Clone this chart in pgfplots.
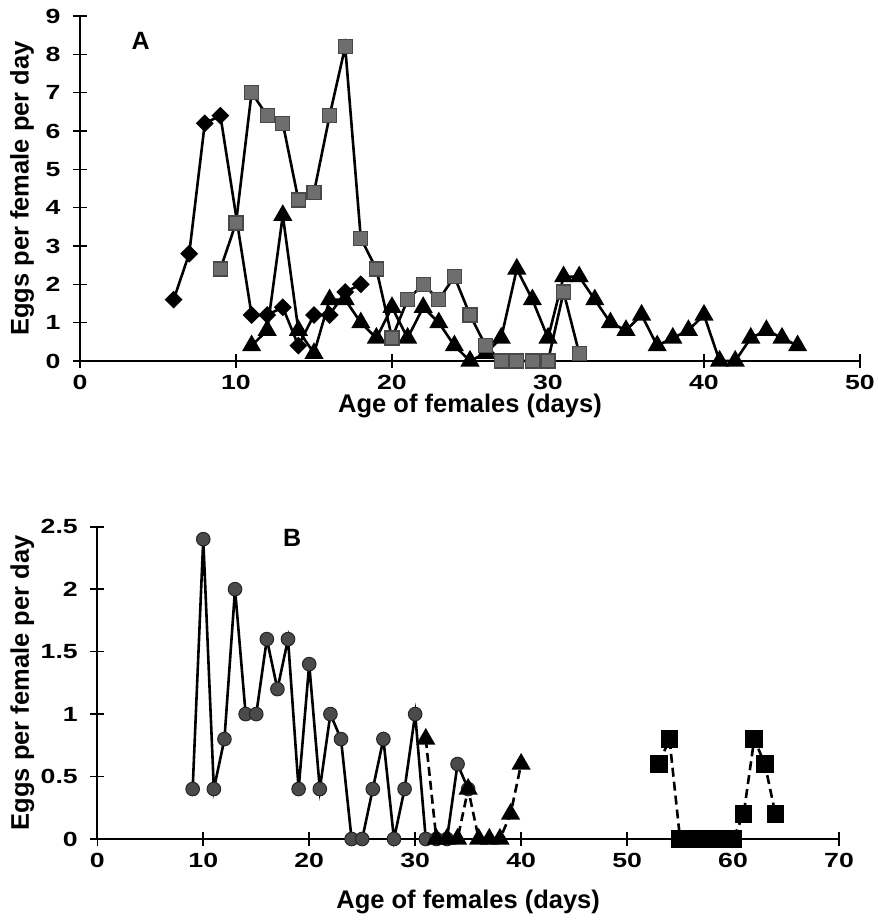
\documentclass[border=0pt]{standalone}
\usepackage{fontspec}
\setmainfont{Liberation Sans}
\usepackage{pgfplots}
\pgfplotsset{compat=1.18}

\definecolor{sqgray}{HTML}{6E6E6E}
\definecolor{sqedge}{HTML}{484848}
\definecolor{circgray}{HTML}{4A4A4A}

% tick numbers: bold, slightly widened
\newcommand{\ticktext}[1]{\scalebox{1.3}[1]{\fontsize{20.5}{24}\selectfont\bfseries #1}}

\pgfplotsset{
  eggaxis/.style={
    scale only axis, anchor=south west,
    axis x line=bottom, axis y line=left,
    axis line style={-, line width=1.8pt},
    every tick/.style={black, line width=1.6pt},
    tick align=center, major tick length=14pt,
    /pgf/number format/assume math mode=true,
    xticklabel={\ticktext{\pgfmathprintnumber{\tick}}},
    yticklabel={\ticktext{\pgfmathprintnumber{\tick}}},
    xticklabel style={yshift=-4pt},
    yticklabel style={xshift=-9pt},
    label style={font=\fontsize{25.5}{30}\selectfont\bfseries},
    xlabel={Age of females (days)},
    ylabel={Eggs per female per day},
    clip=false,
  },
  ser/.style={black, line width=2.6pt, mark options={solid}},
}

\begin{document}
\begin{tikzpicture}
\path[use as bounding box] (0pt,0pt) rectangle (878pt,922pt);

% Panel A
\begin{axis}[eggaxis, at={(80pt,561pt)}, width=780pt, height=345pt,
  xmin=0, xmax=50, ymin=0, ymax=9,
  xtick={0,10,...,50}, ytick={0,1,...,9},
  xlabel style={at={(axis description cs:0.5,-0.131)}, anchor=center},
  ylabel style={at={(axis description cs:-0.0744,0.5)}, anchor=center},
]
\addplot[ser, mark=square*, mark size=5pt, mark options={solid, rotate=45, fill=black}]
  coordinates {(6,1.6)(7,2.8)(8,6.2)(9,6.4)(11,1.2)(12,1.2)(13,1.4)(14,0.4)
               (15,1.2)(16,1.2)(17,1.8)(18,2.0)};
\addplot[ser, mark=triangle*, mark size=8.5pt, mark options={solid, fill=black}]
  coordinates {(11,0.4)(12,0.8)(13,3.8)(14,0.8)(15,0.2)(16,1.6)(17,1.6)(18,1.0)
               (19,0.6)(20,1.4)(21,0.6)(22,1.4)(23,1.0)(24,0.4)(25,0)(26,0.2)
               (27,0.6)(28,2.4)(29,1.6)(30,0.6)(31,2.2)(32,2.2)(33,1.6)(34,1.0)
               (35,0.8)(36,1.2)(37,0.4)(38,0.6)(39,0.8)(40,1.2)(41,0)(42,0)
               (43,0.6)(44,0.8)(45,0.6)(46,0.4)};
\addplot[ser, mark=square*, mark size=7pt, mark options={solid, fill=sqgray, draw=sqedge, line width=1.2pt}]
  coordinates {(9,2.4)(10,3.6)(11,7.0)(12,6.4)(13,6.2)(14,4.2)(15,4.4)(16,6.4)
               (17,8.2)(18,3.2)(19,2.4)(20,0.6)(21,1.6)(22,2.0)(23,1.6)(24,2.2)
               (25,1.2)(26,0.4)(27,0)(28,0)(29,0)(30,0)(31,1.8)(32,0.2)};
\node[font=\fontsize{25}{29}\selectfont\bfseries] at (axis cs:3.88,8.36) {A};
\end{axis}

% Panel B
\begin{axis}[eggaxis, at={(97.3pt,83pt)}, width=741.7pt, height=312.3pt,
  xmin=0, xmax=70, ymin=0, ymax=2.5,
  xtick={0,10,...,70}, ytick={0,0.5,1,1.5,2,2.5},
  xlabel style={at={(axis description cs:0.5,-0.2017)}, anchor=center},
  ylabel style={at={(axis description cs:-0.1011,0.5)}, anchor=center},
]
\addplot[ser, mark=*, mark size=6.8pt, mark options={solid, fill=circgray, draw=black!85, line width=1pt}]
  coordinates {(9,0.4)(10,2.4)(11,0.4)(12,0.8)(13,2.0)(14,1.0)(15,1.0)(16,1.6)
               (17,1.2)(18,1.6)(19,0.4)(20,1.4)(21,0.4)(22,1.0)(23,0.8)(24,0)
               (25,0)(26,0.4)(27,0.8)(28,0)(29,0.4)(30,1.0)(31,0)(32,0)(33,0)
               (34,0.6)(35,0.4)};
\addplot[ser, dash pattern=on 9pt off 5pt, mark=triangle*, mark size=8.5pt, mark options={solid, fill=black}]
  coordinates {(31,0.8)(32,0)(33,0)(34,0)(35,0.4)(36,0)(37,0)(38,0)(39,0.2)(40,0.6)};
\addplot[ser, dash pattern=on 9pt off 5pt, mark=square*, mark size=7.5pt, mark options={solid, fill=black}]
  coordinates {(53,0.6)(54,0.8)(55,0)(56,0)(57,0)(58,0)(59,0)(60,0)
               (61,0.2)(62,0.8)(63,0.6)(64,0.2)};
\node[font=\fontsize{25}{29}\selectfont\bfseries] at (axis cs:18.4,2.41) {B};
\end{axis}
\end{tikzpicture}
\end{document}
